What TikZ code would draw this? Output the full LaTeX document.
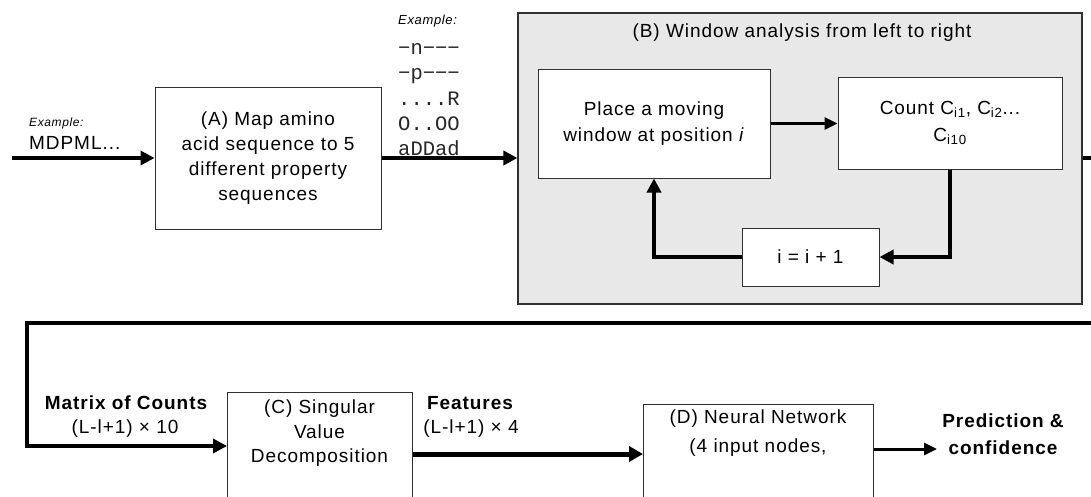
\documentclass[tikz,border=0pt]{standalone}
\usepackage{fontspec}
\setmainfont{Liberation Sans}[LetterSpace=5]
\newfontfamily\monofont{Liberation Mono}
\usetikzlibrary{arrows.meta}
\definecolor{panelgray}{HTML}{E8E8E8}
\definecolor{edge}{HTML}{303030}
\begin{document}
\begin{tikzpicture}[x=1pt,y=-1pt,
  box/.style={draw=edge, line width=1pt, fill=white, align=center, inner sep=0pt},
  txt/.style={inner sep=0pt, align=center},
  big/.style={font=\fontsize{19}{25}\selectfont},
  bigb/.style={font=\fontsize{19}{27}\selectfont\bfseries},
  mono/.style={inner sep=0pt, anchor=base west, text=black!85, font=\monofont\fontsize{20.5}{20}\selectfont},
  thickarrow/.style={line width=4pt, -{Triangle[length=14pt,width=14pt]}},
  midarrow/.style={line width=3pt, -{Triangle[length=13pt,width=12pt]}},
  thickline/.style={line width=4pt},
]
\useasboundingbox (0,0) rectangle (1091,496);

% (A)
\node[box, big, minimum width=226pt, minimum height=142pt] (A) at (268,158)
  {(A) Map amino\\acid sequence to 5\\different property\\sequences};
\coordinate (start) at (12,158);
\draw[thickarrow] (start) -- (A.west);
\node[txt, anchor=west, font=\fontsize{12}{12}\selectfont\itshape] (exA) at (29,123) {Example:};
\node[txt, anchor=west, font=\fontsize{19}{19}\selectfont] (seq) at (29,143) {MDPML...};

% (B) panel
\node[draw=edge, line width=1.2pt, fill=panelgray, minimum width=564pt, minimum height=291pt, inner sep=0pt] (B) at (800,158.5) {};
\node[txt, big] (Btitle) at (802,33) {(B) Window analysis from left to right};
\node[box, font=\fontsize{19}{26}\selectfont, minimum width=232pt, minimum height=109pt] (P) at (654,123.5)
  {Place a moving\\window at position \textit{i}};
\node[box, font=\fontsize{19}{27}\selectfont, minimum width=224pt, minimum height=92pt] (Cnt) at (950,123)
  {Count C\textsubscript{i1}, C\textsubscript{i2}...\\C\textsubscript{i10}};
\node[box, big, minimum width=137pt, minimum height=58pt] (Inc) at (810.5,257) {i = i + 1};
\draw[midarrow] (P.east) -- (P.east -| Cnt.west);
\draw[thickarrow] (Cnt.south) |- (Inc.east);
\draw[thickarrow] (Inc.west) -| (P.south);

% A -> B
\draw[thickarrow] (A.east) -- (A.east -| B.west);
\node[txt, anchor=west, font=\fontsize{13}{13}\selectfont\itshape] (exB) at (398,21) {Example:};
\node[mono] (m1) at (398,54) {−n−−−};
\node[mono] (m2) at (398,79) {−p−−−};
\node[mono] (m3) at (398,105) {....R};
\node[mono] (m4) at (398,130) {O..OO};
\node[mono] (m5) at (398,155) {aDDad};

% right stub
\coordinate (rEdge) at (1091,158);
\draw[thickline] (B.east |- rEdge) -- (rEdge);

% bottom row
\node[box, minimum width=185pt, minimum height=130pt, anchor=north west] (C) at (227,392) {};
\node[txt, font=\fontsize{19}{24.5}\selectfont] (Ctxt) at (319.5,433.5) {(C) Singular\\Value\\Decomposition};
\node[box, minimum width=230pt, minimum height=120pt, anchor=north west] (D) at (643,404) {};
\node[txt, font=\fontsize{19}{29}\selectfont] (Dtxt) at (758,433.5) {(D) Neural Network\\(4 input nodes,};

\coordinate (rBot) at (1091,323);
\coordinate (lBot) at (27,323);
\coordinate (cIn) at (0,446);
\draw[line width=4pt, -{Triangle[length=14pt,width=14pt]}] (rBot) -- (lBot) |- (C.west |- cIn);

\coordinate (fy) at (0,454);
\draw[line width=5pt, -{Triangle[length=14pt,width=15pt]}] (C.east |- fy) -- (D.west |- fy);

\coordinate (pEnd) at (937,449);
\draw[midarrow] (D.east |- pEnd) -- (pEnd);

\node[txt, bigb] (mc) at (126,403) {Matrix of Counts};
\node[txt, big] (mcd) at (125,429) {(L-l+1) × 10};
\node[txt, bigb] (feat) at (470,403) {Features};
\node[txt, big] (featd) at (471,429) {(L-l+1) × 4};
\node[txt, bigb] (pred) at (1003,434.5) {Prediction \&\\confidence};
\end{tikzpicture}
\end{document}
